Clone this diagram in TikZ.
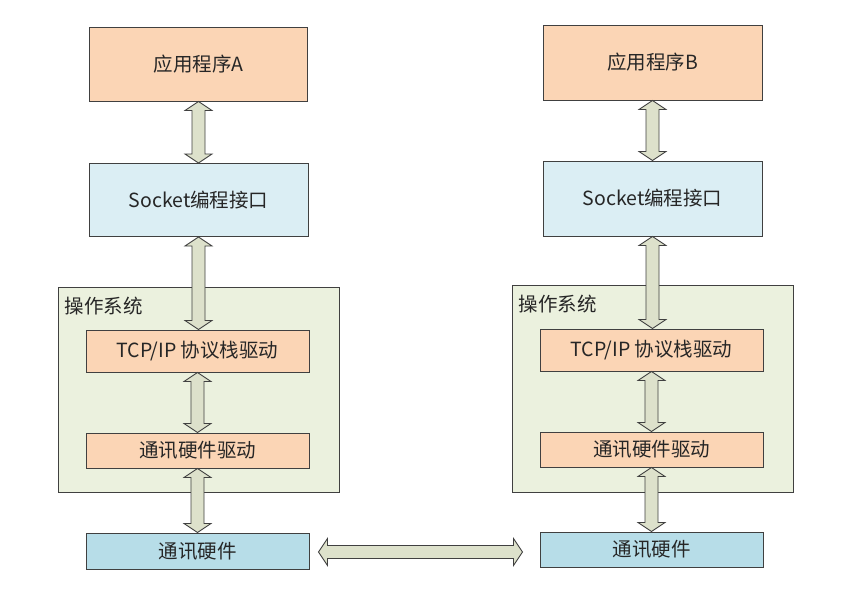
\documentclass[tikz,border=0pt]{standalone}
\usepackage{fontspec}
\setmainfont{Noto Sans CJK SC}
\usetikzlibrary{calc}
\definecolor{orangefill}{HTML}{FBD5B5}
\definecolor{bluefill}{HTML}{DBEEF4}
\definecolor{osfill}{HTML}{EBF1DE}
\definecolor{hwfill}{HTML}{B7DDE8}
\definecolor{arrfill}{HTML}{DDE1CB}
\definecolor{edge}{HTML}{404040}
\definecolor{txt}{HTML}{262626}
\tikzset{
  box/.style={draw=edge, line width=1pt, inner sep=0pt, text=txt,
    font=\fontsize{19.5}{21}\selectfont},
  appbox/.style={box, fill=orangefill},
  sockbox/.style={box, fill=bluefill},
  osbox/.style={box, fill=osfill},
  hwbox/.style={box, fill=hwfill},
  arr/.style={draw=edge, fill=arrfill, line width=0.9pt, line join=miter},
  oslabel/.style={anchor=west, inner sep=0pt, text=txt, font=\fontsize{19.5}{21}\selectfont}
}
% vertical double arrow: from bottom of #1 to top of #2
\newcommand\vdarrow[2]{%
  \filldraw[arr] let \p1=(#1.south), \p2=(#2.north) in
   (\x1,\y1) -- (\x1-13.5pt,\y1-9pt) -- (\x1-6.5pt,\y1-9pt) -- (\x1-6.5pt,\y2+9pt)
   -- (\x1-13.5pt,\y2+9pt) -- (\x1,\y2) -- (\x1+13.5pt,\y2+9pt) -- (\x1+6.5pt,\y2+9pt)
   -- (\x1+6.5pt,\y1-9pt) -- (\x1+13.5pt,\y1-9pt) -- cycle;}
\begin{document}
\begin{tikzpicture}[x=1pt,y=-1pt]
\fill[white] (0,0) rectangle (845,592);
\useasboundingbox (0,0) rectangle (845,592);

% ---------- left side ----------
\node[osbox, minimum width=281pt, minimum height=205pt] (osA) at (198.5,389.5) {};
\node[oslabel] (osAl) at ($(osA.north west)+(7,20)$) {操作系统};
\node[appbox, minimum width=218pt, minimum height=74pt] (appA) at (198.5,64) {应用程序A};
\node[sockbox, minimum width=219pt, minimum height=73pt] (sockA) at (198.5,200) {Socket编程接口};
\node[appbox, minimum width=223pt, minimum height=42pt] (tcpA) at (197.5,351) {TCP/IP 协议栈驱动};
\node[appbox, minimum width=223pt, minimum height=35pt] (drvA) at (197.5,450.5) {通讯硬件驱动};
\node[hwbox, minimum width=223pt, minimum height=36pt] (hwA) at (197.5,551) {通讯硬件};

% ---------- right side ----------
\node[osbox, minimum width=281pt, minimum height=207pt] (osB) at (652.5,388.5) {};
\node[oslabel] (osBl) at ($(osB.north west)+(7,20)$) {操作系统};
\node[appbox, minimum width=219pt, minimum height=75pt] (appB) at (652.5,62.5) {应用程序B};
\node[sockbox, minimum width=219pt, minimum height=75pt] (sockB) at (652.5,198.5) {Socket编程接口};
\node[appbox, minimum width=223pt, minimum height=42pt] (tcpB) at (651.5,350) {TCP/IP 协议栈驱动};
\node[appbox, minimum width=223pt, minimum height=35pt] (drvB) at (651.5,449.5) {通讯硬件驱动};
\node[hwbox, minimum width=223pt, minimum height=35pt] (hwB) at (651.5,549.5) {通讯硬件};

% ---------- vertical arrows ----------
\vdarrow{appA}{sockA}
\vdarrow{sockA}{tcpA}
\vdarrow{tcpA}{drvA}
\vdarrow{drvA}{hwA}
\vdarrow{appB}{sockB}
\vdarrow{sockB}{tcpB}
\vdarrow{tcpB}{drvB}
\vdarrow{drvB}{hwB}

% ---------- horizontal arrow ----------
\filldraw[arr] let \p1=(hwA.east), \p2=(hwB.west) in
  (\x1+9pt,552) -- (\x1+18pt,538.5) -- (\x1+18pt,545.5) -- (\x2-26pt,545.5)
  -- (\x2-26pt,538.5) -- (\x2-17pt,552) -- (\x2-26pt,565.5) -- (\x2-26pt,558.5)
  -- (\x1+18pt,558.5) -- (\x1+18pt,565.5) -- cycle;
\end{tikzpicture}
\end{document}
